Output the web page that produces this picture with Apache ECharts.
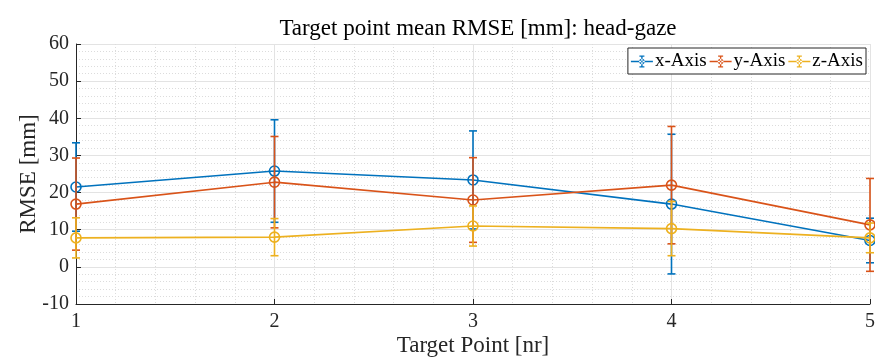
<!DOCTYPE html>
<html><head><meta charset="utf-8">
<script src="https://cdn.jsdelivr.net/npm/echarts@6/dist/echarts.min.js"></script>
<style>html,body{margin:0;padding:0;background:#fff}#c{width:875px;height:358px}</style>
</head><body><div id="c"></div>
<script>
var points = [1, 2, 3, 4, 5];
var xMean = [21.5, 25.8, 23.4, 16.9, 7.1];
var xErr  = [11.9, 13.8, 13.2, 18.8, 6.0];
var yMean = [16.9, 22.8, 18.0, 22.0, 11.3];
var yErr  = [12.4, 12.3, 11.4, 15.8, 12.5];
var zMean = [7.8, 8.0, 11.0, 10.3, 7.8];
var zErr  = [5.4, 5.0, 5.4, 7.3, 4.0];
var seriesNames = ['x-Axis', 'y-Axis', 'z-Axis'];
var colors = ['#0072BD', '#D95319', '#EDB120'];

var FONT = 'Liberation Serif';
var TXT = '#262626';
var chart = echarts.init(document.getElementById('c'));

function errSeries(name, means, errs, color, z) {
  return {
    name: name, type: 'custom', z: z, clip: false,
    data: points.map(function (p, i) { return [p, means[i] - errs[i], means[i] + errs[i]]; }),
    encode: { x: 0, y: [1, 2] },
    renderItem: function (params, api) {
      var lo = api.coord([api.value(0), api.value(1)]);
      var hi = api.coord([api.value(0), api.value(2)]);
      var w = 4;
      var st = { stroke: color, lineWidth: 1.6 };
      return { type: 'group', children: [
        { type: 'line', shape: { x1: lo[0], y1: lo[1], x2: hi[0], y2: hi[1] }, style: st },
        { type: 'line', shape: { x1: lo[0] - w, y1: lo[1], x2: lo[0] + w, y2: lo[1] }, style: st },
        { type: 'line', shape: { x1: hi[0] - w, y1: hi[1], x2: hi[0] + w, y2: hi[1] }, style: st }
      ]};
    }
  };
}
function lineSeries(name, means, color, z) {
  return {
    name: name, type: 'line', z: z, clip: false,
    data: points.map(function (p, i) { return [p, means[i]]; }),
    symbol: 'circle', symbolSize: 10, showSymbol: true,
    itemStyle: { color: 'rgba(255,255,255,0)', borderColor: color, borderWidth: 1.6 },
    lineStyle: { color: color, width: 1.6 },
    emphasis: { disabled: true },
    color: color
  };
}
var legendIcon = 'path://M0,5.3h22v1.4h-22z M10.3,0h1.4v12h-1.4z M8.5,0h5v1.3h-5z M8.5,10.7h5v1.3h-5z M11,3.2a2.8,2.8 0 1,0 0.01,0z';

var option = {
  animation: false,
  title: {
    text: 'Target point mean RMSE [mm]: head-gaze',
    left: 473, top: 12, textAlign: 'center',
    textStyle: { fontFamily: FONT, fontSize: 23, fontWeight: 'normal', color: '#000' }
  },
  legend: {
    data: seriesNames.map(function (n, i) { return { name: n, icon: legendIcon, itemStyle: { color: colors[i] } }; }),
    right: 9, top: 48, itemWidth: 22, itemHeight: 12, itemGap: 3,
    padding: [4, 3, 3, 3],
    borderColor: '#262626', borderWidth: 1, backgroundColor: '#fff',
    textStyle: { fontFamily: FONT, fontSize: 19, color: '#000', padding: [0, 0, 0, -3] }
  },
  grid: { left: 76, right: 5, top: 44, bottom: 54, outerBoundsMode: 'none', containLabel: false },
  xAxis: {
    type: 'value', min: 1, max: 5, interval: 1,
    name: 'Target Point [nr]', nameLocation: 'middle', nameGap: 30, nameMoveOverlap: false,
    nameTextStyle: { fontFamily: FONT, fontSize: 23, color: TXT },
    axisLine: { show: true, onZero: false, lineStyle: { color: TXT, width: 1 } },
    axisTick: { show: true, inside: true, length: 5, lineStyle: { color: TXT } },
    axisLabel: { fontFamily: FONT, fontSize: 20, color: TXT, margin: 8 },
    splitLine: { show: true, lineStyle: { color: '#e3e3e3', width: 1 } },
    minorTick: { show: false, splitNumber: 5 },
    minorSplitLine: { show: true, lineStyle: { color: '#dcdcdc', width: 1, type: [1, 2] } }
  },
  yAxis: {
    type: 'value', min: -10, max: 60, interval: 10,
    name: 'RMSE [mm]', nameLocation: 'middle', nameGap: 36, nameMoveOverlap: false,
    nameTextStyle: { fontFamily: FONT, fontSize: 23, color: TXT },
    axisLine: { show: true, onZero: false, lineStyle: { color: TXT, width: 1 } },
    axisTick: { show: true, inside: true, length: 5, lineStyle: { color: TXT } },
    axisLabel: { fontFamily: FONT, fontSize: 20, color: TXT, margin: 7 },
    splitLine: { show: true, lineStyle: { color: '#e3e3e3', width: 1 } },
    minorTick: { show: false, splitNumber: 5 },
    minorSplitLine: { show: true, lineStyle: { color: '#dcdcdc', width: 1, type: [1, 2] } }
  },
  series: [
    errSeries(seriesNames[0], xMean, xErr, colors[0], 2),
    lineSeries(seriesNames[0], xMean, colors[0], 3),
    errSeries(seriesNames[1], yMean, yErr, colors[1], 4),
    lineSeries(seriesNames[1], yMean, colors[1], 5),
    errSeries(seriesNames[2], zMean, zErr, colors[2], 6),
    lineSeries(seriesNames[2], zMean, colors[2], 7)
  ]
};
chart.setOption(option);
</script>
</body></html>
